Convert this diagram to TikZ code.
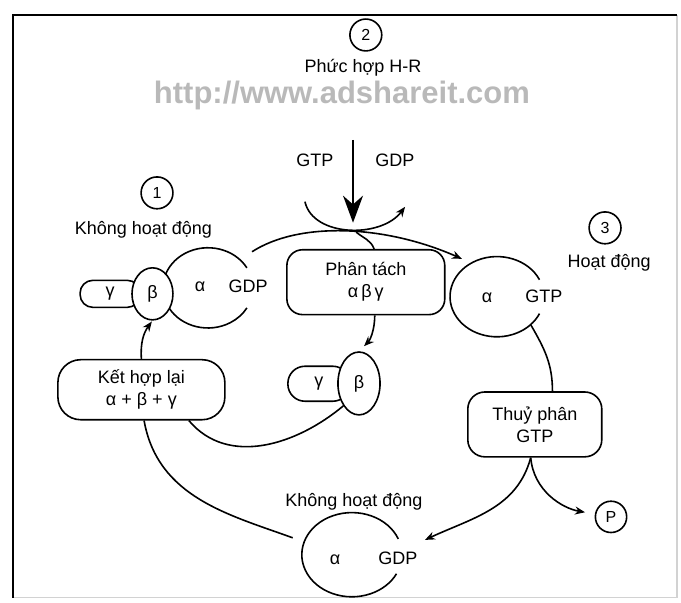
\documentclass[tikz,border=0pt]{standalone}
\usepackage{fontspec}
\setmainfont{Liberation Sans}
\usetikzlibrary{arrows,arrows.meta,shapes.geometric}
\tikzset{
>={Stealth[length=10pt,width=8pt]}, % small filled arrow heads
every node/.style={font=\fontsize{18}{22}\selectfont}, % all labels in one size
box/.style={draw, rounded corners=0.55cm, align=center, fill=white}, % process boxes
sub/.style={draw, ellipse, fill=white, inner sep=0pt}, % beta subunit, drawn over the others
num/.style={draw, circle, minimum size=1.12cm, inner sep=0pt, font=\fontsize{16}{18}\selectfont}, % step numbers
}

\begin{document}
\begin{tikzpicture}[line width=1.6pt]
    \useasboundingbox (0,0) rectangle (23.94,21.19);
    % frame
    \draw[gray!35] (0.46,0.18) -- (23.80,0.18) -- (23.80,20.67);
    \draw[line width=2pt] (0.46,0.18) -- (0.46,20.67) -- (23.80,20.67);

    % step 2: hormone-receptor complex
    \node[num] at (12.86,19.96) (n2) {2};
    \node[inner sep=1pt] at (12.76,18.80) (hr) {Phức hợp H-R};
    \node[text=gray!55, inner sep=0pt, font=\fontsize{31}{31}\bfseries\selectfont] at (12.02,17.84) (wm) {http://www.adshareit.com};
    \node at (11.07,15.57) (gtp) {GTP};
    \node at (13.88,15.57) (gdp) {GDP};
    \coordinate (hrin) at (12.41,16.27);
    \coordinate (hrout) at (12.41,13.36);
    \coordinate (u1) at (10.72,14.10);
    \coordinate (u2) at (14.24,13.92);
    \draw[line width=2.6pt, -{Stealth[length=0.95cm,width=0.7cm]}] (hrin) -- (hrout);
    \draw[->] (u1) .. controls (11.0,12.85) and (13.4,12.8) .. (u2);

    % step 1: inactive G protein
    \node[num] at (5.52,14.41) (n1) {1};
    \node at (5.04,13.11) (kh1) {Không hoạt động};
    \node[box, rounded corners=0.45cm, minimum width=2.11cm, minimum height=0.95cm] at (3.87,10.86) (g1) {γ};
    \node[ellipse, minimum width=3.16cm, minimum height=2.82cm, inner sep=0pt] at (7.31,11.07) (a1) {};
    \draw (a1.center) ++(30:1.58 and 1.41) arc[start angle=30, end angle=330, x radius=1.58, y radius=1.41];
    \node[sub, minimum width=1.44cm, minimum height=1.83cm] at (5.36,10.86) (b1) {β};
    \node at (7.03,11.11) (al1) {α};
    \node at (8.72,11.11) (gdp1) {GDP};

    % dissociation
    \node[box, minimum width=5.55cm, minimum height=2.28cm] at (12.86,11.27) (pt) {Phân tách\\α\,β\,γ};
    \node[box, rounded corners=0.6cm, minimum width=2.18cm, minimum height=1.23cm] at (11.21,7.70) (g2) {γ};
    \node[sub, minimum width=1.48cm, minimum height=2.21cm] at (12.62,7.71) (b2) {β};

    % reassociation
    \node[box, rounded corners=0.8cm, minimum width=5.87cm, minimum height=2.11cm] at (4.97,7.49) (kh) {Kết hợp lại\\α + β + γ};

    % step 3: active alpha
    \node[num] at (21.27,13.18) (n3) {3};
    \node at (21.41,11.95) (hd) {Hoạt động};
    \node[ellipse, minimum width=3.3cm, minimum height=2.82cm, inner sep=0pt] at (17.47,10.76) (a3) {};
    \draw (a3.center) ++(25:1.65 and 1.41) arc[start angle=25, end angle=335, x radius=1.65, y radius=1.41];
    \node at (17.12,10.72) (al3) {α};
    \node at (19.12,10.76) (gtp3) {GTP};
    \node[box, rounded corners=0.6cm, minimum width=4.71cm, minimum height=2.28cm] at (18.80,6.27) (tp) {Thuỷ phân\\GTP};
    \node[num, minimum size=1.1cm] at (21.48,3.02) (p) {P};

    % back to inactive
    \node at (12.44,3.55) (kh4) {Không hoạt động};
    \node[ellipse, minimum width=3.52cm, minimum height=2.96cm, inner sep=0pt] at (12.37,1.69) (a4) {};
    \draw (a4.center) ++(22:1.76 and 1.48) arc[start angle=22, end angle=333, x radius=1.76, y radius=1.48];
    \node at (11.78,1.51) (al4) {α};
    \node at (13.99,1.55) (gdp4) {GDP};

    \coordinate (s1) at (8.86,12.34);
    \coordinate (e3) at (16.24,12.09);
    \coordinate (br) at (12.52,13.03);
    \coordinate (e4) at (14.94,2.21);
    \draw[->] (s1) .. controls (10.5,13.4) and (13.5,13.3) .. (e3);
    \draw
    (br) to[out=-40, in=110] (pt.76)
    (b2.235) to[out=-140, in=-50] (kh.-33)
    (a3.-40) to[out=-60, in=90] (tp.62)
    ;
    \draw[shorten >=0.4cm] (kh.-85) to[out=-80, in=160] (a4.165);
    \draw[->, shorten >=1pt] (kh.north) to[bend left=20] (b1.south);
    \draw[->, shorten >=0.25cm] (pt.-75) to[out=-90, in=45] (b2.north);
    \draw[->] (tp.-97) to[out=-105, in=25] (e4);
    \draw[->, shorten >=0.35cm] (tp.-97) to[out=-85, in=170] (p.170);
\end{tikzpicture}
\end{document}
